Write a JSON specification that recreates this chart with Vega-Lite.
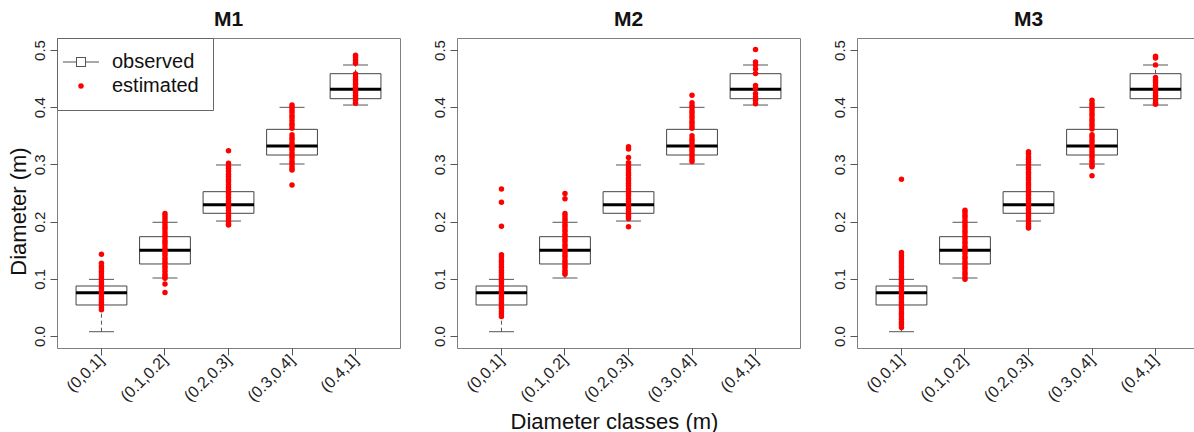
{
  "$schema": "https://vega.github.io/schema/vega-lite/v6.json",
  "autosize": "none",
  "padding": {"left": 57, "top": 38, "right": 1137, "bottom": 394},
  "background": "white",
  "datasets": {
    "boxes": [
      {"class": "(0,0.1]", "lo": 0.0075, "q1": 0.0542, "med": 0.0757, "q3": 0.0874, "hi": 0.099},
      {"class": "(0.1,0.2]", "lo": 0.1014, "q1": 0.1259, "med": 0.15, "q3": 0.1736, "hi": 0.1988},
      {"class": "(0.2,0.3]", "lo": 0.201, "q1": 0.2145, "med": 0.2296, "q3": 0.2523, "hi": 0.299},
      {"class": "(0.3,0.4]", "lo": 0.3007, "q1": 0.3164, "med": 0.3322, "q3": 0.3613, "hi": 0.3998},
      {"class": "(0.4,1]", "lo": 0.4038, "q1": 0.4149, "med": 0.4313, "q3": 0.4586, "hi": 0.4738}
    ],
    "points": [
      {"model": "M1", "class": "(0,0.1]", "value": 0.143},
      {"model": "M1", "class": "(0,0.1]", "value": 0.127},
      {"model": "M1", "class": "(0,0.1]", "value": 0.122},
      {"model": "M1", "class": "(0,0.1]", "value": 0.118},
      {"model": "M1", "class": "(0,0.1]", "value": 0.113},
      {"model": "M1", "class": "(0,0.1]", "value": 0.109},
      {"model": "M1", "class": "(0,0.1]", "value": 0.104},
      {"model": "M1", "class": "(0,0.1]", "value": 0.1},
      {"model": "M1", "class": "(0,0.1]", "value": 0.095},
      {"model": "M1", "class": "(0,0.1]", "value": 0.091},
      {"model": "M1", "class": "(0,0.1]", "value": 0.086},
      {"model": "M1", "class": "(0,0.1]", "value": 0.082},
      {"model": "M1", "class": "(0,0.1]", "value": 0.077},
      {"model": "M1", "class": "(0,0.1]", "value": 0.073},
      {"model": "M1", "class": "(0,0.1]", "value": 0.068},
      {"model": "M1", "class": "(0,0.1]", "value": 0.064},
      {"model": "M1", "class": "(0,0.1]", "value": 0.059},
      {"model": "M1", "class": "(0,0.1]", "value": 0.055},
      {"model": "M1", "class": "(0,0.1]", "value": 0.05},
      {"model": "M1", "class": "(0,0.1]", "value": 0.046},
      {"model": "M1", "class": "(0.1,0.2]", "value": 0.214},
      {"model": "M1", "class": "(0.1,0.2]", "value": 0.21},
      {"model": "M1", "class": "(0.1,0.2]", "value": 0.205},
      {"model": "M1", "class": "(0.1,0.2]", "value": 0.2},
      {"model": "M1", "class": "(0.1,0.2]", "value": 0.196},
      {"model": "M1", "class": "(0.1,0.2]", "value": 0.191},
      {"model": "M1", "class": "(0.1,0.2]", "value": 0.187},
      {"model": "M1", "class": "(0.1,0.2]", "value": 0.182},
      {"model": "M1", "class": "(0.1,0.2]", "value": 0.177},
      {"model": "M1", "class": "(0.1,0.2]", "value": 0.173},
      {"model": "M1", "class": "(0.1,0.2]", "value": 0.168},
      {"model": "M1", "class": "(0.1,0.2]", "value": 0.164},
      {"model": "M1", "class": "(0.1,0.2]", "value": 0.159},
      {"model": "M1", "class": "(0.1,0.2]", "value": 0.154},
      {"model": "M1", "class": "(0.1,0.2]", "value": 0.15},
      {"model": "M1", "class": "(0.1,0.2]", "value": 0.145},
      {"model": "M1", "class": "(0.1,0.2]", "value": 0.141},
      {"model": "M1", "class": "(0.1,0.2]", "value": 0.136},
      {"model": "M1", "class": "(0.1,0.2]", "value": 0.131},
      {"model": "M1", "class": "(0.1,0.2]", "value": 0.127},
      {"model": "M1", "class": "(0.1,0.2]", "value": 0.122},
      {"model": "M1", "class": "(0.1,0.2]", "value": 0.118},
      {"model": "M1", "class": "(0.1,0.2]", "value": 0.113},
      {"model": "M1", "class": "(0.1,0.2]", "value": 0.108},
      {"model": "M1", "class": "(0.1,0.2]", "value": 0.104},
      {"model": "M1", "class": "(0.1,0.2]", "value": 0.101},
      {"model": "M1", "class": "(0.1,0.2]", "value": 0.091},
      {"model": "M1", "class": "(0.1,0.2]", "value": 0.076},
      {"model": "M1", "class": "(0.2,0.3]", "value": 0.324},
      {"model": "M1", "class": "(0.2,0.3]", "value": 0.302},
      {"model": "M1", "class": "(0.2,0.3]", "value": 0.297},
      {"model": "M1", "class": "(0.2,0.3]", "value": 0.293},
      {"model": "M1", "class": "(0.2,0.3]", "value": 0.288},
      {"model": "M1", "class": "(0.2,0.3]", "value": 0.283},
      {"model": "M1", "class": "(0.2,0.3]", "value": 0.279},
      {"model": "M1", "class": "(0.2,0.3]", "value": 0.274},
      {"model": "M1", "class": "(0.2,0.3]", "value": 0.27},
      {"model": "M1", "class": "(0.2,0.3]", "value": 0.265},
      {"model": "M1", "class": "(0.2,0.3]", "value": 0.26},
      {"model": "M1", "class": "(0.2,0.3]", "value": 0.256},
      {"model": "M1", "class": "(0.2,0.3]", "value": 0.251},
      {"model": "M1", "class": "(0.2,0.3]", "value": 0.247},
      {"model": "M1", "class": "(0.2,0.3]", "value": 0.242},
      {"model": "M1", "class": "(0.2,0.3]", "value": 0.237},
      {"model": "M1", "class": "(0.2,0.3]", "value": 0.233},
      {"model": "M1", "class": "(0.2,0.3]", "value": 0.228},
      {"model": "M1", "class": "(0.2,0.3]", "value": 0.224},
      {"model": "M1", "class": "(0.2,0.3]", "value": 0.219},
      {"model": "M1", "class": "(0.2,0.3]", "value": 0.214},
      {"model": "M1", "class": "(0.2,0.3]", "value": 0.21},
      {"model": "M1", "class": "(0.2,0.3]", "value": 0.205},
      {"model": "M1", "class": "(0.2,0.3]", "value": 0.2},
      {"model": "M1", "class": "(0.2,0.3]", "value": 0.196},
      {"model": "M1", "class": "(0.2,0.3]", "value": 0.194},
      {"model": "M1", "class": "(0.3,0.4]", "value": 0.404},
      {"model": "M1", "class": "(0.3,0.4]", "value": 0.4},
      {"model": "M1", "class": "(0.3,0.4]", "value": 0.395},
      {"model": "M1", "class": "(0.3,0.4]", "value": 0.391},
      {"model": "M1", "class": "(0.3,0.4]", "value": 0.386},
      {"model": "M1", "class": "(0.3,0.4]", "value": 0.382},
      {"model": "M1", "class": "(0.3,0.4]", "value": 0.377},
      {"model": "M1", "class": "(0.3,0.4]", "value": 0.372},
      {"model": "M1", "class": "(0.3,0.4]", "value": 0.368},
      {"model": "M1", "class": "(0.3,0.4]", "value": 0.363},
      {"model": "M1", "class": "(0.3,0.4]", "value": 0.352},
      {"model": "M1", "class": "(0.3,0.4]", "value": 0.347},
      {"model": "M1", "class": "(0.3,0.4]", "value": 0.343},
      {"model": "M1", "class": "(0.3,0.4]", "value": 0.338},
      {"model": "M1", "class": "(0.3,0.4]", "value": 0.334},
      {"model": "M1", "class": "(0.3,0.4]", "value": 0.329},
      {"model": "M1", "class": "(0.3,0.4]", "value": 0.325},
      {"model": "M1", "class": "(0.3,0.4]", "value": 0.32},
      {"model": "M1", "class": "(0.3,0.4]", "value": 0.315},
      {"model": "M1", "class": "(0.3,0.4]", "value": 0.311},
      {"model": "M1", "class": "(0.3,0.4]", "value": 0.306},
      {"model": "M1", "class": "(0.3,0.4]", "value": 0.302},
      {"model": "M1", "class": "(0.3,0.4]", "value": 0.297},
      {"model": "M1", "class": "(0.3,0.4]", "value": 0.293},
      {"model": "M1", "class": "(0.3,0.4]", "value": 0.29},
      {"model": "M1", "class": "(0.3,0.4]", "value": 0.264},
      {"model": "M1", "class": "(0.4,1]", "value": 0.491},
      {"model": "M1", "class": "(0.4,1]", "value": 0.487},
      {"model": "M1", "class": "(0.4,1]", "value": 0.482},
      {"model": "M1", "class": "(0.4,1]", "value": 0.477},
      {"model": "M1", "class": "(0.4,1]", "value": 0.458},
      {"model": "M1", "class": "(0.4,1]", "value": 0.453},
      {"model": "M1", "class": "(0.4,1]", "value": 0.448},
      {"model": "M1", "class": "(0.4,1]", "value": 0.444},
      {"model": "M1", "class": "(0.4,1]", "value": 0.44},
      {"model": "M1", "class": "(0.4,1]", "value": 0.435},
      {"model": "M1", "class": "(0.4,1]", "value": 0.43},
      {"model": "M1", "class": "(0.4,1]", "value": 0.426},
      {"model": "M1", "class": "(0.4,1]", "value": 0.421},
      {"model": "M1", "class": "(0.4,1]", "value": 0.417},
      {"model": "M1", "class": "(0.4,1]", "value": 0.412},
      {"model": "M1", "class": "(0.4,1]", "value": 0.407},
      {"model": "M2", "class": "(0,0.1]", "value": 0.257},
      {"model": "M2", "class": "(0,0.1]", "value": 0.234},
      {"model": "M2", "class": "(0,0.1]", "value": 0.192},
      {"model": "M2", "class": "(0,0.1]", "value": 0.142},
      {"model": "M2", "class": "(0,0.1]", "value": 0.138},
      {"model": "M2", "class": "(0,0.1]", "value": 0.133},
      {"model": "M2", "class": "(0,0.1]", "value": 0.129},
      {"model": "M2", "class": "(0,0.1]", "value": 0.124},
      {"model": "M2", "class": "(0,0.1]", "value": 0.12},
      {"model": "M2", "class": "(0,0.1]", "value": 0.115},
      {"model": "M2", "class": "(0,0.1]", "value": 0.111},
      {"model": "M2", "class": "(0,0.1]", "value": 0.106},
      {"model": "M2", "class": "(0,0.1]", "value": 0.102},
      {"model": "M2", "class": "(0,0.1]", "value": 0.097},
      {"model": "M2", "class": "(0,0.1]", "value": 0.093},
      {"model": "M2", "class": "(0,0.1]", "value": 0.088},
      {"model": "M2", "class": "(0,0.1]", "value": 0.084},
      {"model": "M2", "class": "(0,0.1]", "value": 0.079},
      {"model": "M2", "class": "(0,0.1]", "value": 0.075},
      {"model": "M2", "class": "(0,0.1]", "value": 0.07},
      {"model": "M2", "class": "(0,0.1]", "value": 0.066},
      {"model": "M2", "class": "(0,0.1]", "value": 0.061},
      {"model": "M2", "class": "(0,0.1]", "value": 0.057},
      {"model": "M2", "class": "(0,0.1]", "value": 0.052},
      {"model": "M2", "class": "(0,0.1]", "value": 0.048},
      {"model": "M2", "class": "(0,0.1]", "value": 0.043},
      {"model": "M2", "class": "(0,0.1]", "value": 0.039},
      {"model": "M2", "class": "(0,0.1]", "value": 0.034},
      {"model": "M2", "class": "(0.1,0.2]", "value": 0.249},
      {"model": "M2", "class": "(0.1,0.2]", "value": 0.24},
      {"model": "M2", "class": "(0.1,0.2]", "value": 0.214},
      {"model": "M2", "class": "(0.1,0.2]", "value": 0.21},
      {"model": "M2", "class": "(0.1,0.2]", "value": 0.205},
      {"model": "M2", "class": "(0.1,0.2]", "value": 0.201},
      {"model": "M2", "class": "(0.1,0.2]", "value": 0.196},
      {"model": "M2", "class": "(0.1,0.2]", "value": 0.192},
      {"model": "M2", "class": "(0.1,0.2]", "value": 0.187},
      {"model": "M2", "class": "(0.1,0.2]", "value": 0.183},
      {"model": "M2", "class": "(0.1,0.2]", "value": 0.178},
      {"model": "M2", "class": "(0.1,0.2]", "value": 0.174},
      {"model": "M2", "class": "(0.1,0.2]", "value": 0.169},
      {"model": "M2", "class": "(0.1,0.2]", "value": 0.165},
      {"model": "M2", "class": "(0.1,0.2]", "value": 0.16},
      {"model": "M2", "class": "(0.1,0.2]", "value": 0.156},
      {"model": "M2", "class": "(0.1,0.2]", "value": 0.151},
      {"model": "M2", "class": "(0.1,0.2]", "value": 0.147},
      {"model": "M2", "class": "(0.1,0.2]", "value": 0.142},
      {"model": "M2", "class": "(0.1,0.2]", "value": 0.138},
      {"model": "M2", "class": "(0.1,0.2]", "value": 0.133},
      {"model": "M2", "class": "(0.1,0.2]", "value": 0.129},
      {"model": "M2", "class": "(0.1,0.2]", "value": 0.124},
      {"model": "M2", "class": "(0.1,0.2]", "value": 0.12},
      {"model": "M2", "class": "(0.1,0.2]", "value": 0.115},
      {"model": "M2", "class": "(0.1,0.2]", "value": 0.111},
      {"model": "M2", "class": "(0.1,0.2]", "value": 0.108},
      {"model": "M2", "class": "(0.2,0.3]", "value": 0.331},
      {"model": "M2", "class": "(0.2,0.3]", "value": 0.327},
      {"model": "M2", "class": "(0.2,0.3]", "value": 0.312},
      {"model": "M2", "class": "(0.2,0.3]", "value": 0.303},
      {"model": "M2", "class": "(0.2,0.3]", "value": 0.299},
      {"model": "M2", "class": "(0.2,0.3]", "value": 0.294},
      {"model": "M2", "class": "(0.2,0.3]", "value": 0.29},
      {"model": "M2", "class": "(0.2,0.3]", "value": 0.285},
      {"model": "M2", "class": "(0.2,0.3]", "value": 0.281},
      {"model": "M2", "class": "(0.2,0.3]", "value": 0.276},
      {"model": "M2", "class": "(0.2,0.3]", "value": 0.272},
      {"model": "M2", "class": "(0.2,0.3]", "value": 0.267},
      {"model": "M2", "class": "(0.2,0.3]", "value": 0.263},
      {"model": "M2", "class": "(0.2,0.3]", "value": 0.258},
      {"model": "M2", "class": "(0.2,0.3]", "value": 0.254},
      {"model": "M2", "class": "(0.2,0.3]", "value": 0.249},
      {"model": "M2", "class": "(0.2,0.3]", "value": 0.245},
      {"model": "M2", "class": "(0.2,0.3]", "value": 0.24},
      {"model": "M2", "class": "(0.2,0.3]", "value": 0.236},
      {"model": "M2", "class": "(0.2,0.3]", "value": 0.231},
      {"model": "M2", "class": "(0.2,0.3]", "value": 0.227},
      {"model": "M2", "class": "(0.2,0.3]", "value": 0.222},
      {"model": "M2", "class": "(0.2,0.3]", "value": 0.218},
      {"model": "M2", "class": "(0.2,0.3]", "value": 0.213},
      {"model": "M2", "class": "(0.2,0.3]", "value": 0.209},
      {"model": "M2", "class": "(0.2,0.3]", "value": 0.205},
      {"model": "M2", "class": "(0.2,0.3]", "value": 0.191},
      {"model": "M2", "class": "(0.3,0.4]", "value": 0.421},
      {"model": "M2", "class": "(0.3,0.4]", "value": 0.408},
      {"model": "M2", "class": "(0.3,0.4]", "value": 0.403},
      {"model": "M2", "class": "(0.3,0.4]", "value": 0.399},
      {"model": "M2", "class": "(0.3,0.4]", "value": 0.394},
      {"model": "M2", "class": "(0.3,0.4]", "value": 0.39},
      {"model": "M2", "class": "(0.3,0.4]", "value": 0.385},
      {"model": "M2", "class": "(0.3,0.4]", "value": 0.381},
      {"model": "M2", "class": "(0.3,0.4]", "value": 0.376},
      {"model": "M2", "class": "(0.3,0.4]", "value": 0.372},
      {"model": "M2", "class": "(0.3,0.4]", "value": 0.367},
      {"model": "M2", "class": "(0.3,0.4]", "value": 0.363},
      {"model": "M2", "class": "(0.3,0.4]", "value": 0.35},
      {"model": "M2", "class": "(0.3,0.4]", "value": 0.345},
      {"model": "M2", "class": "(0.3,0.4]", "value": 0.341},
      {"model": "M2", "class": "(0.3,0.4]", "value": 0.336},
      {"model": "M2", "class": "(0.3,0.4]", "value": 0.332},
      {"model": "M2", "class": "(0.3,0.4]", "value": 0.327},
      {"model": "M2", "class": "(0.3,0.4]", "value": 0.323},
      {"model": "M2", "class": "(0.3,0.4]", "value": 0.318},
      {"model": "M2", "class": "(0.3,0.4]", "value": 0.314},
      {"model": "M2", "class": "(0.3,0.4]", "value": 0.309},
      {"model": "M2", "class": "(0.3,0.4]", "value": 0.305},
      {"model": "M2", "class": "(0.4,1]", "value": 0.501},
      {"model": "M2", "class": "(0.4,1]", "value": 0.479},
      {"model": "M2", "class": "(0.4,1]", "value": 0.474},
      {"model": "M2", "class": "(0.4,1]", "value": 0.467},
      {"model": "M2", "class": "(0.4,1]", "value": 0.459},
      {"model": "M2", "class": "(0.4,1]", "value": 0.438},
      {"model": "M2", "class": "(0.4,1]", "value": 0.433},
      {"model": "M2", "class": "(0.4,1]", "value": 0.424},
      {"model": "M2", "class": "(0.4,1]", "value": 0.418},
      {"model": "M2", "class": "(0.4,1]", "value": 0.412},
      {"model": "M2", "class": "(0.4,1]", "value": 0.406},
      {"model": "M3", "class": "(0,0.1]", "value": 0.274},
      {"model": "M3", "class": "(0,0.1]", "value": 0.146},
      {"model": "M3", "class": "(0,0.1]", "value": 0.141},
      {"model": "M3", "class": "(0,0.1]", "value": 0.137},
      {"model": "M3", "class": "(0,0.1]", "value": 0.132},
      {"model": "M3", "class": "(0,0.1]", "value": 0.128},
      {"model": "M3", "class": "(0,0.1]", "value": 0.123},
      {"model": "M3", "class": "(0,0.1]", "value": 0.119},
      {"model": "M3", "class": "(0,0.1]", "value": 0.114},
      {"model": "M3", "class": "(0,0.1]", "value": 0.11},
      {"model": "M3", "class": "(0,0.1]", "value": 0.105},
      {"model": "M3", "class": "(0,0.1]", "value": 0.101},
      {"model": "M3", "class": "(0,0.1]", "value": 0.096},
      {"model": "M3", "class": "(0,0.1]", "value": 0.092},
      {"model": "M3", "class": "(0,0.1]", "value": 0.087},
      {"model": "M3", "class": "(0,0.1]", "value": 0.083},
      {"model": "M3", "class": "(0,0.1]", "value": 0.078},
      {"model": "M3", "class": "(0,0.1]", "value": 0.074},
      {"model": "M3", "class": "(0,0.1]", "value": 0.069},
      {"model": "M3", "class": "(0,0.1]", "value": 0.065},
      {"model": "M3", "class": "(0,0.1]", "value": 0.06},
      {"model": "M3", "class": "(0,0.1]", "value": 0.056},
      {"model": "M3", "class": "(0,0.1]", "value": 0.051},
      {"model": "M3", "class": "(0,0.1]", "value": 0.047},
      {"model": "M3", "class": "(0,0.1]", "value": 0.042},
      {"model": "M3", "class": "(0,0.1]", "value": 0.038},
      {"model": "M3", "class": "(0,0.1]", "value": 0.033},
      {"model": "M3", "class": "(0,0.1]", "value": 0.029},
      {"model": "M3", "class": "(0,0.1]", "value": 0.024},
      {"model": "M3", "class": "(0,0.1]", "value": 0.02},
      {"model": "M3", "class": "(0,0.1]", "value": 0.015},
      {"model": "M3", "class": "(0.1,0.2]", "value": 0.22},
      {"model": "M3", "class": "(0.1,0.2]", "value": 0.216},
      {"model": "M3", "class": "(0.1,0.2]", "value": 0.211},
      {"model": "M3", "class": "(0.1,0.2]", "value": 0.207},
      {"model": "M3", "class": "(0.1,0.2]", "value": 0.202},
      {"model": "M3", "class": "(0.1,0.2]", "value": 0.198},
      {"model": "M3", "class": "(0.1,0.2]", "value": 0.193},
      {"model": "M3", "class": "(0.1,0.2]", "value": 0.189},
      {"model": "M3", "class": "(0.1,0.2]", "value": 0.184},
      {"model": "M3", "class": "(0.1,0.2]", "value": 0.18},
      {"model": "M3", "class": "(0.1,0.2]", "value": 0.175},
      {"model": "M3", "class": "(0.1,0.2]", "value": 0.171},
      {"model": "M3", "class": "(0.1,0.2]", "value": 0.166},
      {"model": "M3", "class": "(0.1,0.2]", "value": 0.162},
      {"model": "M3", "class": "(0.1,0.2]", "value": 0.157},
      {"model": "M3", "class": "(0.1,0.2]", "value": 0.153},
      {"model": "M3", "class": "(0.1,0.2]", "value": 0.148},
      {"model": "M3", "class": "(0.1,0.2]", "value": 0.144},
      {"model": "M3", "class": "(0.1,0.2]", "value": 0.139},
      {"model": "M3", "class": "(0.1,0.2]", "value": 0.135},
      {"model": "M3", "class": "(0.1,0.2]", "value": 0.13},
      {"model": "M3", "class": "(0.1,0.2]", "value": 0.126},
      {"model": "M3", "class": "(0.1,0.2]", "value": 0.121},
      {"model": "M3", "class": "(0.1,0.2]", "value": 0.117},
      {"model": "M3", "class": "(0.1,0.2]", "value": 0.112},
      {"model": "M3", "class": "(0.1,0.2]", "value": 0.108},
      {"model": "M3", "class": "(0.1,0.2]", "value": 0.103},
      {"model": "M3", "class": "(0.1,0.2]", "value": 0.099},
      {"model": "M3", "class": "(0.2,0.3]", "value": 0.322},
      {"model": "M3", "class": "(0.2,0.3]", "value": 0.318},
      {"model": "M3", "class": "(0.2,0.3]", "value": 0.313},
      {"model": "M3", "class": "(0.2,0.3]", "value": 0.309},
      {"model": "M3", "class": "(0.2,0.3]", "value": 0.304},
      {"model": "M3", "class": "(0.2,0.3]", "value": 0.3},
      {"model": "M3", "class": "(0.2,0.3]", "value": 0.295},
      {"model": "M3", "class": "(0.2,0.3]", "value": 0.291},
      {"model": "M3", "class": "(0.2,0.3]", "value": 0.286},
      {"model": "M3", "class": "(0.2,0.3]", "value": 0.282},
      {"model": "M3", "class": "(0.2,0.3]", "value": 0.277},
      {"model": "M3", "class": "(0.2,0.3]", "value": 0.273},
      {"model": "M3", "class": "(0.2,0.3]", "value": 0.268},
      {"model": "M3", "class": "(0.2,0.3]", "value": 0.264},
      {"model": "M3", "class": "(0.2,0.3]", "value": 0.259},
      {"model": "M3", "class": "(0.2,0.3]", "value": 0.255},
      {"model": "M3", "class": "(0.2,0.3]", "value": 0.25},
      {"model": "M3", "class": "(0.2,0.3]", "value": 0.246},
      {"model": "M3", "class": "(0.2,0.3]", "value": 0.241},
      {"model": "M3", "class": "(0.2,0.3]", "value": 0.237},
      {"model": "M3", "class": "(0.2,0.3]", "value": 0.232},
      {"model": "M3", "class": "(0.2,0.3]", "value": 0.228},
      {"model": "M3", "class": "(0.2,0.3]", "value": 0.223},
      {"model": "M3", "class": "(0.2,0.3]", "value": 0.219},
      {"model": "M3", "class": "(0.2,0.3]", "value": 0.214},
      {"model": "M3", "class": "(0.2,0.3]", "value": 0.21},
      {"model": "M3", "class": "(0.2,0.3]", "value": 0.205},
      {"model": "M3", "class": "(0.2,0.3]", "value": 0.201},
      {"model": "M3", "class": "(0.2,0.3]", "value": 0.196},
      {"model": "M3", "class": "(0.2,0.3]", "value": 0.192},
      {"model": "M3", "class": "(0.2,0.3]", "value": 0.189},
      {"model": "M3", "class": "(0.3,0.4]", "value": 0.412},
      {"model": "M3", "class": "(0.3,0.4]", "value": 0.407},
      {"model": "M3", "class": "(0.3,0.4]", "value": 0.403},
      {"model": "M3", "class": "(0.3,0.4]", "value": 0.398},
      {"model": "M3", "class": "(0.3,0.4]", "value": 0.394},
      {"model": "M3", "class": "(0.3,0.4]", "value": 0.389},
      {"model": "M3", "class": "(0.3,0.4]", "value": 0.385},
      {"model": "M3", "class": "(0.3,0.4]", "value": 0.38},
      {"model": "M3", "class": "(0.3,0.4]", "value": 0.376},
      {"model": "M3", "class": "(0.3,0.4]", "value": 0.371},
      {"model": "M3", "class": "(0.3,0.4]", "value": 0.367},
      {"model": "M3", "class": "(0.3,0.4]", "value": 0.362},
      {"model": "M3", "class": "(0.3,0.4]", "value": 0.352},
      {"model": "M3", "class": "(0.3,0.4]", "value": 0.348},
      {"model": "M3", "class": "(0.3,0.4]", "value": 0.343},
      {"model": "M3", "class": "(0.3,0.4]", "value": 0.339},
      {"model": "M3", "class": "(0.3,0.4]", "value": 0.334},
      {"model": "M3", "class": "(0.3,0.4]", "value": 0.33},
      {"model": "M3", "class": "(0.3,0.4]", "value": 0.325},
      {"model": "M3", "class": "(0.3,0.4]", "value": 0.321},
      {"model": "M3", "class": "(0.3,0.4]", "value": 0.316},
      {"model": "M3", "class": "(0.3,0.4]", "value": 0.312},
      {"model": "M3", "class": "(0.3,0.4]", "value": 0.307},
      {"model": "M3", "class": "(0.3,0.4]", "value": 0.303},
      {"model": "M3", "class": "(0.3,0.4]", "value": 0.298},
      {"model": "M3", "class": "(0.3,0.4]", "value": 0.296},
      {"model": "M3", "class": "(0.3,0.4]", "value": 0.28},
      {"model": "M3", "class": "(0.4,1]", "value": 0.489},
      {"model": "M3", "class": "(0.4,1]", "value": 0.486},
      {"model": "M3", "class": "(0.4,1]", "value": 0.474},
      {"model": "M3", "class": "(0.4,1]", "value": 0.452},
      {"model": "M3", "class": "(0.4,1]", "value": 0.447},
      {"model": "M3", "class": "(0.4,1]", "value": 0.443},
      {"model": "M3", "class": "(0.4,1]", "value": 0.438},
      {"model": "M3", "class": "(0.4,1]", "value": 0.434},
      {"model": "M3", "class": "(0.4,1]", "value": 0.429},
      {"model": "M3", "class": "(0.4,1]", "value": 0.425},
      {"model": "M3", "class": "(0.4,1]", "value": 0.42},
      {"model": "M3", "class": "(0.4,1]", "value": 0.416},
      {"model": "M3", "class": "(0.4,1]", "value": 0.411},
      {"model": "M3", "class": "(0.4,1]", "value": 0.407},
      {"model": "M3", "class": "(0.4,1]", "value": 0.405}
    ]
  },
  "hconcat": [
    {
      "width": 343, "height": 310,
      "title": {"text": "M1"},
      "encoding": {
        "x": {"field": "class", "type": "nominal", "sort": null,
          "scale": {"type": "band", "domain": ["(0,0.1]", "(0.1,0.2]", "(0.2,0.3]", "(0.3,0.4]", "(0.4,1]"], "paddingInner": 0.2, "paddingOuter": 0.3},
          "axis": {"title": null, "labelAngle": -45, "labelAlign": "right", "labelBaseline": "middle", "labelFontSize": 16, "labelPadding": 2, "labelColor": "#222"}}
      },
      "layer": [
        {"data": {"name": "boxes"}, "mark": {"type": "rule", "color": "#555", "strokeDash": [4, 3], "strokeWidth": 1},
          "encoding": {"y": {"field": "lo", "type": "quantitative", "scale": {"domain": [-0.021, 0.521], "nice": false, "zero": false},
            "axis": {"values": [0, 0.1, 0.2, 0.3, 0.4, 0.5], "format": ".1f", "labelAngle": 270, "labelAlign": "center", "labelBaseline": "bottom", "labelPadding": 3, "labelFontSize": 15, "title": "Diameter (m)", "titleFontSize": 22, "titleAngle": 270, "titleAlign": "center", "titleBaseline": "bottom", "titleX": -27, "titleY": 173}},
            "y2": {"field": "q1"}}},
        {"data": {"name": "boxes"}, "mark": {"type": "rule", "color": "#555", "strokeDash": [4, 3], "strokeWidth": 1},
          "encoding": {"y": {"field": "q3", "type": "quantitative", "scale": {"domain": [-0.021, 0.521], "nice": false, "zero": false},
            "axis": {"values": [0, 0.1, 0.2, 0.3, 0.4, 0.5], "format": ".1f", "labelAngle": 270, "labelAlign": "center", "labelBaseline": "bottom", "labelPadding": 3, "labelFontSize": 15, "title": "Diameter (m)", "titleFontSize": 22, "titleAngle": 270, "titleAlign": "center", "titleBaseline": "bottom", "titleX": -27, "titleY": 173}},
            "y2": {"field": "hi"}}},
        {"data": {"name": "boxes"}, "mark": {"type": "tick", "color": "#555", "size": 25, "thickness": 1, "opacity": 1},
          "encoding": {"y": {"field": "lo", "type": "quantitative", "scale": {"domain": [-0.021, 0.521], "nice": false, "zero": false},
            "axis": {"values": [0, 0.1, 0.2, 0.3, 0.4, 0.5], "format": ".1f", "labelAngle": 270, "labelAlign": "center", "labelBaseline": "bottom", "labelPadding": 3, "labelFontSize": 15, "title": "Diameter (m)", "titleFontSize": 22, "titleAngle": 270, "titleAlign": "center", "titleBaseline": "bottom", "titleX": -27, "titleY": 173}}}},
        {"data": {"name": "boxes"}, "mark": {"type": "tick", "color": "#555", "size": 25, "thickness": 1, "opacity": 1},
          "encoding": {"y": {"field": "hi", "type": "quantitative", "scale": {"domain": [-0.021, 0.521], "nice": false, "zero": false},
            "axis": {"values": [0, 0.1, 0.2, 0.3, 0.4, 0.5], "format": ".1f", "labelAngle": 270, "labelAlign": "center", "labelBaseline": "bottom", "labelPadding": 3, "labelFontSize": 15, "title": "Diameter (m)", "titleFontSize": 22, "titleAngle": 270, "titleAlign": "center", "titleBaseline": "bottom", "titleX": -27, "titleY": 173}}}},
        {"data": {"name": "boxes"}, "mark": {"type": "bar", "fill": "white", "stroke": "#444", "strokeWidth": 1},
          "encoding": {"y": {"field": "q1", "type": "quantitative", "scale": {"domain": [-0.021, 0.521], "nice": false, "zero": false},
            "axis": {"values": [0, 0.1, 0.2, 0.3, 0.4, 0.5], "format": ".1f", "labelAngle": 270, "labelAlign": "center", "labelBaseline": "bottom", "labelPadding": 3, "labelFontSize": 15, "title": "Diameter (m)", "titleFontSize": 22, "titleAngle": 270, "titleAlign": "center", "titleBaseline": "bottom", "titleX": -27, "titleY": 173}},
            "y2": {"field": "q3"}}},
        {"data": {"name": "boxes"}, "mark": {"type": "tick", "color": "#000", "size": 51, "thickness": 3, "opacity": 1},
          "encoding": {"y": {"field": "med", "type": "quantitative", "scale": {"domain": [-0.021, 0.521], "nice": false, "zero": false},
            "axis": {"values": [0, 0.1, 0.2, 0.3, 0.4, 0.5], "format": ".1f", "labelAngle": 270, "labelAlign": "center", "labelBaseline": "bottom", "labelPadding": 3, "labelFontSize": 15, "title": "Diameter (m)", "titleFontSize": 22, "titleAngle": 270, "titleAlign": "center", "titleBaseline": "bottom", "titleX": -27, "titleY": 173}}}},
        {"data": {"name": "points"}, "transform": [{"filter": "datum.model === 'M1'"}],
          "mark": {"type": "point", "filled": true, "size": 30, "opacity": 1, "strokeWidth": 0},
          "encoding": {
            "y": {"field": "value", "type": "quantitative", "scale": {"domain": [-0.021, 0.521], "nice": false, "zero": false},
              "axis": {"values": [0, 0.1, 0.2, 0.3, 0.4, 0.5], "format": ".1f", "labelAngle": 270, "labelAlign": "center", "labelBaseline": "bottom", "labelPadding": 3, "labelFontSize": 15, "title": "Diameter (m)", "titleFontSize": 22, "titleAngle": 270, "titleAlign": "center", "titleBaseline": "bottom", "titleX": -27, "titleY": 173}},
            "color": {"datum": "estimated", "type": "nominal", "scale": {"domain": ["observed", "estimated"], "range": ["#555555", "#ff0000"]},
              "legend": {"orient": "top-left", "offset": 0, "title": null, "padding": 14, "rowPadding": 4,
                "strokeColor": "#666", "fillColor": "white", "labelFontSize": 20, "labelColor": "#111", "labelLimit": 300,
                "symbolSize": 30, "symbolOffset": 0, "labelOffset": 21, "symbolStrokeWidth": 0}},
            "shape": {"datum": "estimated", "type": "nominal",
              "scale": {"domain": ["observed", "estimated"], "range": ["M-6.57,-0.18L-1.83,-0.18L-1.83,0.18L-6.57,0.18ZM1.83,-0.18L6.57,-0.18L6.57,0.18L1.83,0.18ZM-1.83,-1.83L1.83,-1.83L1.83,1.83L-1.83,1.83ZM-1.46,-1.46L-1.46,1.46L1.46,1.46L1.46,-1.46Z", "circle"]},
              "legend": {"orient": "top-left", "offset": 0, "title": null, "padding": 14, "rowPadding": 4,
                "strokeColor": "#666", "fillColor": "white", "labelFontSize": 20, "labelColor": "#111", "labelLimit": 300,
                "symbolSize": 30, "symbolOffset": 0, "labelOffset": 21, "symbolStrokeWidth": 0}}
          }}
      ]
    },
    {
      "width": 343, "height": 310,
      "title": {"text": "M2"},
      "encoding": {
        "x": {"field": "class", "type": "nominal", "sort": null,
          "scale": {"type": "band", "domain": ["(0,0.1]", "(0.1,0.2]", "(0.2,0.3]", "(0.3,0.4]", "(0.4,1]"], "paddingInner": 0.2, "paddingOuter": 0.3},
          "axis": {"title": "Diameter classes (m)", "titleFontSize": 22, "titleX": 157, "titleY": 80, "titleBaseline": "alphabetic", "titleAlign": "center",
            "labelAngle": -45, "labelAlign": "right", "labelBaseline": "middle", "labelFontSize": 16, "labelPadding": 2, "labelColor": "#222"}}
      },
      "layer": [
        {"data": {"name": "boxes"}, "mark": {"type": "rule", "color": "#555", "strokeDash": [4, 3], "strokeWidth": 1},
          "encoding": {"y": {"field": "lo", "type": "quantitative", "scale": {"domain": [-0.021, 0.521], "nice": false, "zero": false},
            "axis": {"values": [0, 0.1, 0.2, 0.3, 0.4, 0.5], "format": ".1f", "labelAngle": 270, "labelAlign": "center", "labelBaseline": "bottom", "labelPadding": 3, "labelFontSize": 15, "title": null}},
            "y2": {"field": "q1"}}},
        {"data": {"name": "boxes"}, "mark": {"type": "rule", "color": "#555", "strokeDash": [4, 3], "strokeWidth": 1},
          "encoding": {"y": {"field": "q3", "type": "quantitative", "scale": {"domain": [-0.021, 0.521], "nice": false, "zero": false},
            "axis": {"values": [0, 0.1, 0.2, 0.3, 0.4, 0.5], "format": ".1f", "labelAngle": 270, "labelAlign": "center", "labelBaseline": "bottom", "labelPadding": 3, "labelFontSize": 15, "title": null}},
            "y2": {"field": "hi"}}},
        {"data": {"name": "boxes"}, "mark": {"type": "tick", "color": "#555", "size": 25, "thickness": 1, "opacity": 1},
          "encoding": {"y": {"field": "lo", "type": "quantitative", "scale": {"domain": [-0.021, 0.521], "nice": false, "zero": false},
            "axis": {"values": [0, 0.1, 0.2, 0.3, 0.4, 0.5], "format": ".1f", "labelAngle": 270, "labelAlign": "center", "labelBaseline": "bottom", "labelPadding": 3, "labelFontSize": 15, "title": null}}}},
        {"data": {"name": "boxes"}, "mark": {"type": "tick", "color": "#555", "size": 25, "thickness": 1, "opacity": 1},
          "encoding": {"y": {"field": "hi", "type": "quantitative", "scale": {"domain": [-0.021, 0.521], "nice": false, "zero": false},
            "axis": {"values": [0, 0.1, 0.2, 0.3, 0.4, 0.5], "format": ".1f", "labelAngle": 270, "labelAlign": "center", "labelBaseline": "bottom", "labelPadding": 3, "labelFontSize": 15, "title": null}}}},
        {"data": {"name": "boxes"}, "mark": {"type": "bar", "fill": "white", "stroke": "#444", "strokeWidth": 1},
          "encoding": {"y": {"field": "q1", "type": "quantitative", "scale": {"domain": [-0.021, 0.521], "nice": false, "zero": false},
            "axis": {"values": [0, 0.1, 0.2, 0.3, 0.4, 0.5], "format": ".1f", "labelAngle": 270, "labelAlign": "center", "labelBaseline": "bottom", "labelPadding": 3, "labelFontSize": 15, "title": null}},
            "y2": {"field": "q3"}}},
        {"data": {"name": "boxes"}, "mark": {"type": "tick", "color": "#000", "size": 51, "thickness": 3, "opacity": 1},
          "encoding": {"y": {"field": "med", "type": "quantitative", "scale": {"domain": [-0.021, 0.521], "nice": false, "zero": false},
            "axis": {"values": [0, 0.1, 0.2, 0.3, 0.4, 0.5], "format": ".1f", "labelAngle": 270, "labelAlign": "center", "labelBaseline": "bottom", "labelPadding": 3, "labelFontSize": 15, "title": null}}}},
        {"data": {"name": "points"}, "transform": [{"filter": "datum.model === 'M2'"}],
          "mark": {"type": "circle", "size": 30, "opacity": 1, "color": "#ff0000"},
          "encoding": {"y": {"field": "value", "type": "quantitative", "scale": {"domain": [-0.021, 0.521], "nice": false, "zero": false},
            "axis": {"values": [0, 0.1, 0.2, 0.3, 0.4, 0.5], "format": ".1f", "labelAngle": 270, "labelAlign": "center", "labelBaseline": "bottom", "labelPadding": 3, "labelFontSize": 15, "title": null}}}}
      ]
    },
    {
      "width": 343, "height": 310,
      "title": {"text": "M3"},
      "encoding": {
        "x": {"field": "class", "type": "nominal", "sort": null,
          "scale": {"type": "band", "domain": ["(0,0.1]", "(0.1,0.2]", "(0.2,0.3]", "(0.3,0.4]", "(0.4,1]"], "paddingInner": 0.2, "paddingOuter": 0.3},
          "axis": {"title": null, "labelAngle": -45, "labelAlign": "right", "labelBaseline": "middle", "labelFontSize": 16, "labelPadding": 2, "labelColor": "#222"}}
      },
      "layer": [
        {"data": {"name": "boxes"}, "mark": {"type": "rule", "color": "#555", "strokeDash": [4, 3], "strokeWidth": 1},
          "encoding": {"y": {"field": "lo", "type": "quantitative", "scale": {"domain": [-0.021, 0.521], "nice": false, "zero": false},
            "axis": {"values": [0, 0.1, 0.2, 0.3, 0.4, 0.5], "format": ".1f", "labelAngle": 270, "labelAlign": "center", "labelBaseline": "bottom", "labelPadding": 3, "labelFontSize": 15, "title": null}},
            "y2": {"field": "q1"}}},
        {"data": {"name": "boxes"}, "mark": {"type": "rule", "color": "#555", "strokeDash": [4, 3], "strokeWidth": 1},
          "encoding": {"y": {"field": "q3", "type": "quantitative", "scale": {"domain": [-0.021, 0.521], "nice": false, "zero": false},
            "axis": {"values": [0, 0.1, 0.2, 0.3, 0.4, 0.5], "format": ".1f", "labelAngle": 270, "labelAlign": "center", "labelBaseline": "bottom", "labelPadding": 3, "labelFontSize": 15, "title": null}},
            "y2": {"field": "hi"}}},
        {"data": {"name": "boxes"}, "mark": {"type": "tick", "color": "#555", "size": 25, "thickness": 1, "opacity": 1},
          "encoding": {"y": {"field": "lo", "type": "quantitative", "scale": {"domain": [-0.021, 0.521], "nice": false, "zero": false},
            "axis": {"values": [0, 0.1, 0.2, 0.3, 0.4, 0.5], "format": ".1f", "labelAngle": 270, "labelAlign": "center", "labelBaseline": "bottom", "labelPadding": 3, "labelFontSize": 15, "title": null}}}},
        {"data": {"name": "boxes"}, "mark": {"type": "tick", "color": "#555", "size": 25, "thickness": 1, "opacity": 1},
          "encoding": {"y": {"field": "hi", "type": "quantitative", "scale": {"domain": [-0.021, 0.521], "nice": false, "zero": false},
            "axis": {"values": [0, 0.1, 0.2, 0.3, 0.4, 0.5], "format": ".1f", "labelAngle": 270, "labelAlign": "center", "labelBaseline": "bottom", "labelPadding": 3, "labelFontSize": 15, "title": null}}}},
        {"data": {"name": "boxes"}, "mark": {"type": "bar", "fill": "white", "stroke": "#444", "strokeWidth": 1},
          "encoding": {"y": {"field": "q1", "type": "quantitative", "scale": {"domain": [-0.021, 0.521], "nice": false, "zero": false},
            "axis": {"values": [0, 0.1, 0.2, 0.3, 0.4, 0.5], "format": ".1f", "labelAngle": 270, "labelAlign": "center", "labelBaseline": "bottom", "labelPadding": 3, "labelFontSize": 15, "title": null}},
            "y2": {"field": "q3"}}},
        {"data": {"name": "boxes"}, "mark": {"type": "tick", "color": "#000", "size": 51, "thickness": 3, "opacity": 1},
          "encoding": {"y": {"field": "med", "type": "quantitative", "scale": {"domain": [-0.021, 0.521], "nice": false, "zero": false},
            "axis": {"values": [0, 0.1, 0.2, 0.3, 0.4, 0.5], "format": ".1f", "labelAngle": 270, "labelAlign": "center", "labelBaseline": "bottom", "labelPadding": 3, "labelFontSize": 15, "title": null}}}},
        {"data": {"name": "points"}, "transform": [{"filter": "datum.model === 'M3'"}],
          "mark": {"type": "circle", "size": 30, "opacity": 1, "color": "#ff0000"},
          "encoding": {"y": {"field": "value", "type": "quantitative", "scale": {"domain": [-0.021, 0.521], "nice": false, "zero": false},
            "axis": {"values": [0, 0.1, 0.2, 0.3, 0.4, 0.5], "format": ".1f", "labelAngle": 270, "labelAlign": "center", "labelBaseline": "bottom", "labelPadding": 3, "labelFontSize": 15, "title": null}}}}
      ]
    }
  ],
  "spacing": 57,
  "bounds": "flush",
  "resolve": {"scale": {"color": "independent", "shape": "independent"}, "legend": {"color": "independent", "shape": "independent"}},
  "config": {
    "font": "Liberation Sans",
    "view": {"stroke": "#808080", "strokeWidth": 1},
    "axis": {"grid": false, "domain": false, "tickColor": "#555", "tickSize": 7, "labelColor": "#222", "titleColor": "#111", "titleFontWeight": "normal", "labelFont": "Liberation Sans", "titleFont": "Liberation Sans", "labelOverlap": false},
    "title": {"fontSize": 21, "fontWeight": "bold", "color": "#111", "offset": 8, "baseline": "alphabetic", "anchor": "middle", "font": "Liberation Sans"},
    "legend": {"labelFont": "Liberation Sans"}
  }
}
